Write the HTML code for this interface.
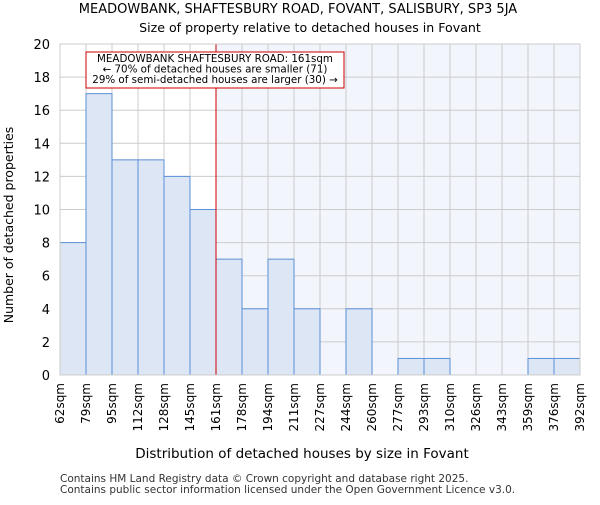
<!DOCTYPE html>
<html><head><meta charset="utf-8"><style>body{margin:0;background:#fff}svg{font-family:"DejaVu Sans","Liberation Sans",sans-serif}</style></head>
<body>
<svg id="c" width="600" height="500" viewBox="0 0 600 500">
<text x="298" y="13" font-size="13" text-anchor="middle">MEADOWBANK, SHAFTESBURY ROAD, FOVANT, SALISBURY, SP3 5JA</text>
<text x="310" y="32" font-size="12.6" text-anchor="middle">Size of property relative to detached houses in Fovant</text>
<g id="plot"></g>
<text x="302" y="458" font-size="13.5" text-anchor="middle">Distribution of detached houses by size in Fovant</text>
<text transform="translate(13,225) rotate(-90)" font-size="12.5" text-anchor="middle">Number of detached properties</text>
<text x="60" y="482" font-size="10.5" fill="#333">Contains HM Land Registry data © Crown copyright and database right 2025.</text>
<text x="60" y="493" font-size="10.5" fill="#333">Contains public sector information licensed under the Open Government Licence v3.0.</text>
</svg>
<script>
const binLabels=["62sqm","79sqm","95sqm","112sqm","128sqm","145sqm","161sqm","178sqm","194sqm","211sqm","227sqm","244sqm","260sqm","277sqm","293sqm","310sqm","326sqm","343sqm","359sqm","376sqm","392sqm"];
const counts=[8,17,13,13,12,10,7,4,7,4,0,4,0,1,1,0,0,0,1,1];
const yTicks=[0,2,4,6,8,10,12,14,16,18,20];
const markerBin=6;
const L=60,R=580,T=44,B=375,yMax=20;
const n=counts.length,bw=(R-L)/n;
const x=i=>L+i*bw, y=v=>B-(v/yMax)*(B-T);
const NS="http://www.w3.org/2000/svg",g=document.getElementById('plot');
function mk(t,a){const e=document.createElementNS(NS,t);for(const k in a)e.setAttribute(k,a[k]);g.appendChild(e);return e;}
let e=mk('rect',{x:x(markerBin),y:T,width:R-x(markerBin),height:B-T,fill:'#f2f5fc'});


yTicks.forEach(v=>{let l=mk('line',{x1:L,x2:R,y1:y(v),y2:y(v),stroke:'#ccc'});


let t=mk('text',{x:L-10,y:y(v)+5,'font-size':13,'text-anchor':'end'});t.textContent=v;

});
binLabels.forEach((s,i)=>{let l=mk('line',{x1:x(i),x2:x(i),y1:T,y2:B,stroke:'#ccc'});


let t=mk('text',{transform:`translate(${x(i)+4},${B+8}) rotate(-90)`,'font-size':12,'text-anchor':'end'});t.textContent=s;

});
counts.forEach((v,i)=>{if(!v)return;let r=mk('rect',{x:x(i),y:y(v),width:bw,height:B-y(v),fill:'#dce6f5',stroke:'#5b8fd6','stroke-width':1});

});
e=mk('line',{x1:x(markerBin),x2:x(markerBin),y1:T,y2:B,stroke:'#cc0000','stroke-width':1});


e=mk('rect',{x:86,y:52,width:258,height:36,fill:'#fff',stroke:'#cc0000'});


["MEADOWBANK SHAFTESBURY ROAD: 161sqm","← 70% of detached houses are smaller (71)","29% of semi-detached houses are larger (30) →"].forEach((s,i)=>{let t=mk('text',{x:215,y:62+i*10.5,'font-size':10.3,'text-anchor':'middle'});t.textContent=s;

});
e=mk('rect',{x:L,y:T,width:R-L,height:B-T,fill:'none',stroke:'#ccc'});


</script>
</body></html>
